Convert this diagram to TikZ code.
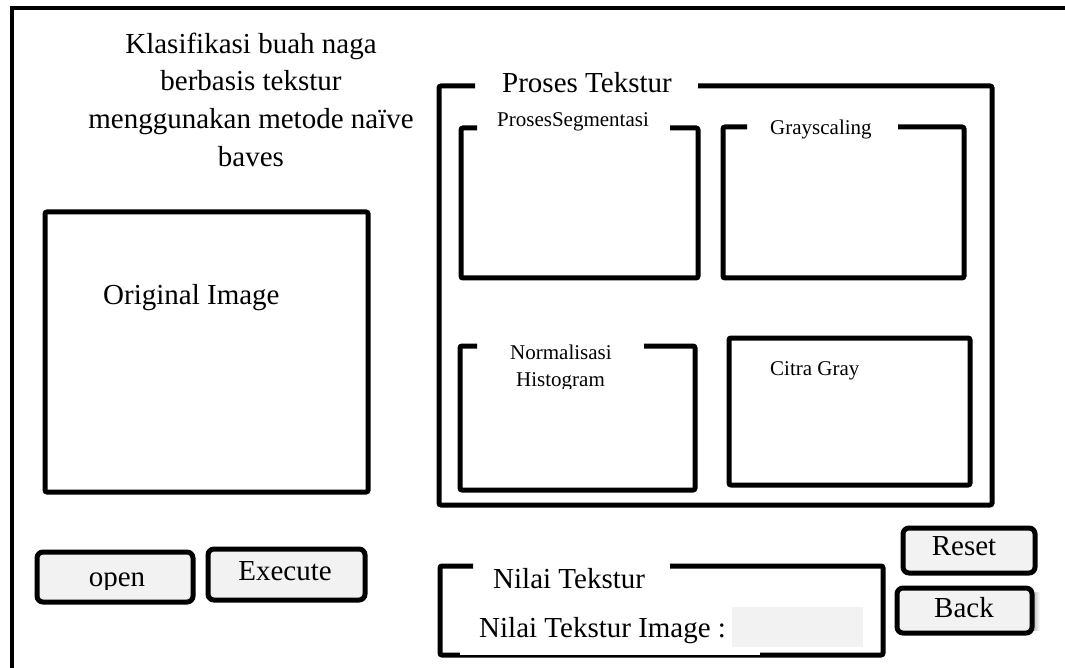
\documentclass[tikz,border=0pt]{standalone}
\usepackage{fontspec}
\setmainfont{Liberation Serif}
\definecolor{btnfill}{HTML}{F2F2F2}
\tikzset{
  frameline/.style={line width=4.5pt},
  grp/.style={line width=5pt, rounded corners=2pt},
  btn/.style={line width=5pt, rounded corners=6pt, fill=btnfill},
  big/.style={font=\fontsize{29}{35}\selectfont, inner sep=0pt},
  small/.style={font=\fontsize{21}{25}\selectfont, inner sep=0pt}
}
\begin{document}
\begin{tikzpicture}[x=1pt,y=-1pt]
\useasboundingbox (0,0) rectangle (1065,668);
\clip (0,0) rectangle (1065,668);
\fill[white] (0,0) rectangle (1065,668);
% outer frame
\draw[frameline] (12,690) -- (12,8) -- (1090,8);
% title
\node[big, anchor=base] (t1) at (251,54) {Klasifikasi buah naga};
\node[big, anchor=base] (t2) at (251,91) {berbasis tekstur};
\node[big, anchor=base] (t3) at (251,129) {menggunakan metode naïve};
\node[big, anchor=base] (t4) at (251,167) {baves};
% original image
\draw[grp] (45,212) rectangle (368,492);
\node[big, anchor=base west] (orig) at (103,305) {Original Image};
% proses tekstur group
\draw[grp] (475,86) -- (439,86) -- (439,505) -- (992,505) -- (992,86) -- (698,86);
\node[big, anchor=base west] (pt) at (502,93) {Proses Tekstur};
% proses segmentasi
\draw[grp] (477,128) -- (461,128) -- (461,278) -- (698,278) -- (698,128) -- (670,128);
\node[small, anchor=base west] (seg) at (497,127) {ProsesSegmentasi};
% grayscaling
\draw[grp] (747,127) -- (723,127) -- (723,278) -- (964,278) -- (964,127) -- (898,127);
\node[small, anchor=base west] (gray) at (770,135) {Grayscaling};
% normalisasi histogram
\draw[grp] (477,346) -- (460,346) -- (460,490) -- (695,490) -- (695,346) -- (644,346);
\node[small, anchor=base west] (norm1) at (510,359) {Normalisasi};
\begin{scope}
\clip (500,360) rectangle (640,388);
\node[small, anchor=base west] (norm2) at (516,386) {Histogram};
\end{scope}
% citra gray
\draw[grp] (729,338) rectangle (970,485);
\node[small, anchor=base west] (citra) at (770,375) {Citra Gray};
% buttons
\draw[btn] (37,552) rectangle (193,602);
\begin{scope}
\clip (60,555) rectangle (180,589);
\node[big, anchor=base] (open) at (117,586) {open};
\end{scope}
\draw[btn] (208,549) rectangle (365,600);
\node[big, anchor=base] (exec) at (285,580) {Execute};
\draw[btn] (903,528) rectangle (1035,573);
\node[big, anchor=base] (reset) at (964,555) {Reset};
\shade[left color=gray!70, right color=white] (1031,592) rectangle (1040,630);
\draw[btn] (897,588) rectangle (1032,633);
\node[big, anchor=base] (back) at (964,617) {Back};
% nilai tekstur
\draw[grp] (473,566) -- (440,566) -- (440,655) -- (883,655) -- (883,566) -- (670,566);
\fill[white] (460,651.5) rectangle (760,654.5);
\node[big, anchor=base west] (nt) at (493,588) {Nilai Tekstur};
\node[big, anchor=base west] (nti) at (479,637) {Nilai Tekstur Image :};
\fill[btnfill] (732,607) rectangle (863,647);
\end{tikzpicture}
\end{document}
